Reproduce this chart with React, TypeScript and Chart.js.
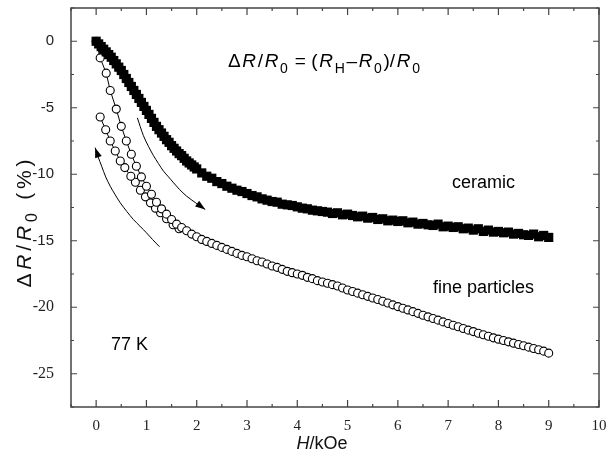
import React, { useEffect, useRef } from "react";
import { Chart, registerables } from "chart.js";
Chart.register(...registerables);

const X_TICKS = [0, 1, 2, 3, 4, 5, 6, 7, 8, 9, 10];
const X_MINOR = [-0.5, 0.5, 1.5, 2.5, 3.5, 4.5, 5.5, 6.5, 7.5, 8.5, 9.5];
const Y_TICKS = [0, -5, -10, -15, -20, -25];
const Y_MINOR = [2.5, -2.5, -7.5, -12.5, -17.5, -22.5, -27.5];

const CERAMIC_H = [
  0.0, 0.05, 0.1, 0.15, 0.2, 0.25, 0.3, 0.35, 0.4, 0.45, 0.5, 0.55, 0.6, 0.65, 0.7, 0.75, 0.8, 0.85, 0.9, 0.95,
  1.0, 1.05, 1.1, 1.15, 1.2, 1.25, 1.3, 1.35, 1.4, 1.45, 1.5, 1.55, 1.6, 1.65, 1.7, 1.75, 1.8, 1.85, 1.9, 1.95,
  2.0, 2.1, 2.2, 2.3, 2.4, 2.5, 2.6, 2.7, 2.8, 2.9, 3.0, 3.1, 3.2, 3.3, 3.4, 3.5, 3.6, 3.7, 3.8, 3.9,
  4.0, 4.1, 4.2, 4.3, 4.4, 4.5, 4.6, 4.7, 4.8, 4.9, 5.0, 5.1, 5.2, 5.3, 5.4, 5.5, 5.6, 5.7, 5.8, 5.9,
  6.0, 6.1, 6.2, 6.3, 6.4, 6.5, 6.6, 6.7, 6.8, 6.9, 7.0, 7.1, 7.2, 7.3, 7.4, 7.5, 7.6, 7.7, 7.8, 7.9,
  8.0, 8.1, 8.2, 8.3, 8.4, 8.5, 8.6, 8.7, 8.8, 8.9, 9.0,
];
const CERAMIC_R = [
  0.0, -0.2, -0.4, -0.6, -0.8, -1.0, -1.2, -1.45, -1.7, -1.95, -2.2, -2.5, -2.8, -3.1, -3.4, -3.7, -4.0, -4.3, -4.6, -4.9,
  -5.2, -5.5, -5.8, -6.1, -6.4, -6.65, -6.9, -7.15, -7.4, -7.6, -7.85, -8.05, -8.25, -8.45, -8.6, -8.8, -9.0, -9.15, -9.3, -9.45,
  -9.6, -9.9, -10.15, -10.3, -10.55, -10.7, -10.9, -11.05, -11.2, -11.3, -11.45, -11.6, -11.7, -11.85, -11.95, -12.05, -12.1, -12.25, -12.3, -12.35,
  -12.45, -12.55, -12.6, -12.7, -12.75, -12.8, -12.85, -12.95, -12.9, -13.05, -13.0, -13.1, -13.2, -13.15, -13.3, -13.25, -13.4, -13.35, -13.5, -13.45,
  -13.55, -13.5, -13.65, -13.6, -13.75, -13.7, -13.8, -13.85, -13.75, -13.95, -13.9, -14.0, -13.95, -14.1, -14.05, -14.2, -14.1, -14.3, -14.2, -14.35,
  -14.3, -14.4, -14.35, -14.5, -14.45, -14.55, -14.6, -14.5, -14.7, -14.6, -14.75,
];

const FINE_UP_H = [
  0.0, 0.08, 0.2, 0.28, 0.4, 0.5, 0.6, 0.7, 0.8, 0.9, 1.0, 1.1, 1.2, 1.3, 1.4, 1.5, 1.6, 1.7, 1.8, 1.9,
  2.0, 2.1, 2.2, 2.3, 2.4, 2.5, 2.6, 2.7, 2.8, 2.9, 3.0, 3.1, 3.2, 3.3, 3.4, 3.5, 3.6, 3.7, 3.8, 3.9,
  4.0, 4.1, 4.2, 4.3, 4.4, 4.5, 4.6, 4.7, 4.8, 4.9, 5.0, 5.1, 5.2, 5.3, 5.4, 5.5, 5.6, 5.7, 5.8, 5.9,
  6.0, 6.1, 6.2, 6.3, 6.4, 6.5, 6.6, 6.7, 6.8, 6.9, 7.0, 7.1, 7.2, 7.3, 7.4, 7.5, 7.6, 7.7, 7.8, 7.9,
  8.0, 8.1, 8.2, 8.3, 8.4, 8.5, 8.6, 8.7, 8.8, 8.9, 9.0,
];
const FINE_UP_R = [
  0.0, -1.25, -2.4, -3.7, -5.1, -6.4, -7.5, -8.5, -9.4, -10.2, -10.9, -11.5, -12.1, -12.6, -13.0, -13.4, -13.75, -14.0, -14.25, -14.5,
  -14.7, -14.9, -15.05, -15.2, -15.35, -15.5, -15.65, -15.8, -15.95, -16.1, -16.2, -16.35, -16.5, -16.6, -16.75, -16.9, -17.0, -17.15, -17.3, -17.4,
  -17.5, -17.6, -17.75, -17.85, -18.0, -18.1, -18.2, -18.3, -18.4, -18.55, -18.7, -18.82, -18.94, -19.06, -19.18, -19.3, -19.42, -19.55, -19.68, -19.82,
  -19.95, -20.08, -20.2, -20.33, -20.46, -20.6, -20.72, -20.85, -20.97, -21.1, -21.22, -21.35, -21.47, -21.6, -21.72, -21.83, -21.95, -22.07, -22.18, -22.3,
  -22.4, -22.5, -22.6, -22.7, -22.8, -22.9, -23.0, -23.1, -23.2, -23.3, -23.45,
];
const FINE_DOWN_H = [1.65, 1.53, 1.4, 1.28, 1.18, 1.08, 0.98, 0.88, 0.78, 0.69, 0.57, 0.48, 0.38, 0.28, 0.19, 0.08];
const FINE_DOWN_R = [-14.1, -13.8, -13.35, -12.9, -12.55, -12.15, -11.7, -11.2, -10.6, -10.15, -9.5, -9.0, -8.25, -7.5, -6.65, -5.7];

const ARROW_UP_H = [0.82, 0.94, 1.04, 1.14, 1.24, 1.34, 1.44, 1.53, 1.66, 1.8, 1.98, 2.17];
const ARROW_UP_R = [-5.76, -7.1, -7.9, -8.6, -9.2, -9.77, -10.2, -10.6, -11.15, -11.65, -12.15, -12.65];
const ARROW_DOWN_H = [1.26, 1.12, 1.0, 0.87, 0.74, 0.61, 0.48, 0.38, 0.28, 0.19, 0.11, 0.04, -0.02];
const ARROW_DOWN_R = [-15.45, -14.9, -14.4, -13.9, -13.4, -12.8, -12.15, -11.55, -10.9, -10.2, -9.4, -8.7, -8.0];

const SANS = "'Liberation Sans', Arial, sans-serif";
const SERIF = "'Liberation Serif', 'Times New Roman', serif";

type Run = { t: string; it?: boolean; sub?: boolean };

function drawRuns(
  ctx: CanvasRenderingContext2D,
  runs: Run[],
  x: number,
  y: number,
  size: number,
  align: "left" | "center",
  target?: number
) {
  const fontFor = (r: Run) => `${r.it ? "italic " : ""}${r.sub ? Math.round(size * 0.75) : size}px ${SANS}`;
  let total = 0;
  const widths: number[] = [];
  for (const r of runs) {
    ctx.font = fontFor(r);
    const w = ctx.measureText(r.t).width;
    widths.push(w);
    total += w;
  }
  const gap = target && runs.length > 1 ? (target - total) / (runs.length - 1) : 0;
  const full = total + gap * (runs.length - 1);
  let cx = align === "center" ? x - full / 2 : x;
  ctx.textAlign = "left";
  ctx.textBaseline = "alphabetic";
  runs.forEach((r, i) => {
    ctx.font = fontFor(r);
    ctx.fillText(r.t, cx, r.sub ? y + size * 0.3 : y);
    cx += widths[i] + gap;
  });
}

const pts = (xs: number[], ys: number[]) => xs.map((x, i) => ({ x, y: ys[i] }));

const framePlugin = {
  id: "frame",
  afterDatasetsDraw(chart: any) {
    const ctx: CanvasRenderingContext2D = chart.ctx;
    const { left, right, top, bottom } = chart.chartArea;
    const xs = chart.scales.x;
    const ys = chart.scales.y;
    ctx.save();
    chart.data.datasets.forEach((ds: any, i: number) => {
      if (!ds.arrow) return;
      const meta = chart.getDatasetMeta(i);
      const n = meta.data.length;
      const p1 = meta.data[n - 1];
      const p0 = meta.data[n - 3];
      const ang = Math.atan2(p1.y - p0.y, p1.x - p0.x);
      const L = 10, W = 3.5;
      ctx.fillStyle = "#000";
      ctx.beginPath();
      ctx.moveTo(p1.x, p1.y);
      ctx.lineTo(p1.x - L * Math.cos(ang) + W * Math.sin(ang), p1.y - L * Math.sin(ang) - W * Math.cos(ang));
      ctx.lineTo(p1.x - L * Math.cos(ang) - W * Math.sin(ang), p1.y - L * Math.sin(ang) + W * Math.cos(ang));
      ctx.closePath();
      ctx.fill();
    });
    ctx.strokeStyle = "#444";
    ctx.lineWidth = 1.5;
    ctx.strokeRect(left, top, right - left, bottom - top);
    ctx.lineWidth = 1.2;
    ctx.beginPath();
    const tick = (v: number, len: number) => {
      const px = xs.getPixelForValue(v);
      ctx.moveTo(px, bottom); ctx.lineTo(px, bottom - len);
      ctx.moveTo(px, top); ctx.lineTo(px, top + len);
    };
    X_TICKS.forEach((v) => tick(v, 7));
    X_MINOR.forEach((v) => tick(v, 3));
    const ytick = (v: number, len: number) => {
      const py = ys.getPixelForValue(v);
      ctx.moveTo(left, py); ctx.lineTo(left + len, py);
      ctx.moveTo(right, py); ctx.lineTo(right - len, py);
    };
    Y_TICKS.forEach((v) => ytick(v, 6));
    Y_MINOR.forEach((v) => ytick(v, 3));
    ctx.stroke();

    ctx.fillStyle = "#000";
    drawRuns(ctx, [
      { t: "\u0394" }, { t: "R", it: true }, { t: "/" }, { t: "R", it: true }, { t: "0", sub: true },
      { t: " = (" }, { t: "R", it: true }, { t: "H", sub: true }, { t: "\u2013" }, { t: "R", it: true }, { t: "0", sub: true },
      { t: ")/" }, { t: "R", it: true }, { t: "0", sub: true },
    ], 228, 67, 19, "left", 192);
    ctx.font = `18px ${SANS}`;
    ctx.fillText("ceramic", 452, 188);
    ctx.fillText("fine particles", 433, 293);
    ctx.fillText("77 K", 111, 350);

    ctx.fillStyle = "#111";
    drawRuns(ctx, [{ t: "H", it: true }, { t: "/kOe" }], 322, 449, 18, "center");
    ctx.translate(31, 223.5);
    ctx.rotate(-Math.PI / 2);
    drawRuns(ctx, [
      { t: "\u0394" }, { t: "R", it: true }, { t: "/" }, { t: "R", it: true }, { t: "0", sub: true },
      { t: " " }, { t: "(" }, { t: "%" }, { t: ")" },
    ], 0, 0, 21, "center", 128);
    ctx.restore();
  },
};

export default function App() {
  const ref = useRef<HTMLCanvasElement>(null);
  useEffect(() => {
    if (!ref.current) return;
    const chart = new Chart(ref.current, {
      type: "scatter",
      data: {
        datasets: [
          {
            label: "ceramic",
            data: pts(CERAMIC_H, CERAMIC_R),
            pointStyle: "rect",
            pointRadius: 6.5,
            backgroundColor: "#000",
            borderColor: "#000",
            borderWidth: 0,
            showLine: false,
            order: 1,
          },
          {
            label: "fine up",
            data: pts(FINE_UP_H, FINE_UP_R),
            pointStyle: "circle",
            pointRadius: 4,
            pointBackgroundColor: "#fff",
            pointBorderColor: "#000",
            pointBorderWidth: 1.1,
            borderColor: "#000",
            borderWidth: 1,
            showLine: true,
            order: 2,
          },
          {
            label: "fine down",
            data: pts(FINE_DOWN_H, FINE_DOWN_R),
            pointStyle: "circle",
            pointRadius: 4,
            pointBackgroundColor: "#fff",
            pointBorderColor: "#000",
            pointBorderWidth: 1.1,
            borderColor: "#000",
            borderWidth: 1,
            showLine: true,
            order: 3,
          },
          {
            label: "arrow up",
            data: pts(ARROW_UP_H, ARROW_UP_R),
            pointRadius: 0,
            borderColor: "#000",
            borderWidth: 1,
            showLine: true,
            tension: 0.3,
            arrow: true,
            order: 4,
          } as any,
          {
            label: "arrow down",
            data: pts(ARROW_DOWN_H, ARROW_DOWN_R),
            pointRadius: 0,
            borderColor: "#000",
            borderWidth: 1,
            showLine: true,
            tension: 0.3,
            arrow: true,
            order: 5,
          } as any,
        ],
      },
      options: {
        responsive: false,
        animation: false,
        devicePixelRatio: 1,
        layout: { padding: { top: 8, right: 15, left: 0, bottom: 0 } },
        plugins: { legend: { display: false }, tooltip: { enabled: false } },
        scales: {
          x: {
            type: "linear",
            min: -0.5,
            max: 10,
            grid: { display: false },
            border: { display: false },
            afterBuildTicks: (s: any) => { s.ticks = X_TICKS.map((v) => ({ value: v })); },
            afterFit: (s: any) => { s.height = 54; s.paddingLeft = 0; s.paddingRight = 0; },
            ticks: {
              color: "#222",
              font: { family: SERIF, size: 15 },
              padding: 2,
              maxRotation: 0,
              autoSkip: false,
            },
          },
          y: {
            type: "linear",
            min: -27.5,
            max: 2.5,
            grid: { display: false },
            border: { display: false },
            afterBuildTicks: (s: any) => { s.ticks = Y_TICKS.map((v) => ({ value: v })); },
            afterFit: (s: any) => { s.width = 71; s.paddingTop = 0; s.paddingBottom = 0; },
            ticks: {
              color: "#222",
              padding: 9,
              autoSkip: false,
              font: (c: any) =>
                c.tick && c.tick.value <= -20
                  ? { family: SERIF, size: 16 }
                  : { family: SANS, size: 15 },
            },
          },
        },
      },
      plugins: [framePlugin],
    });
    return () => chart.destroy();
  }, []);
  return (
    <div style={{ position: "fixed", left: 0, top: 0, width: 614, height: 461, background: "#fff" }}>
      <canvas ref={ref} width={614} height={461} style={{ display: "block" }} />
    </div>
  );
}
